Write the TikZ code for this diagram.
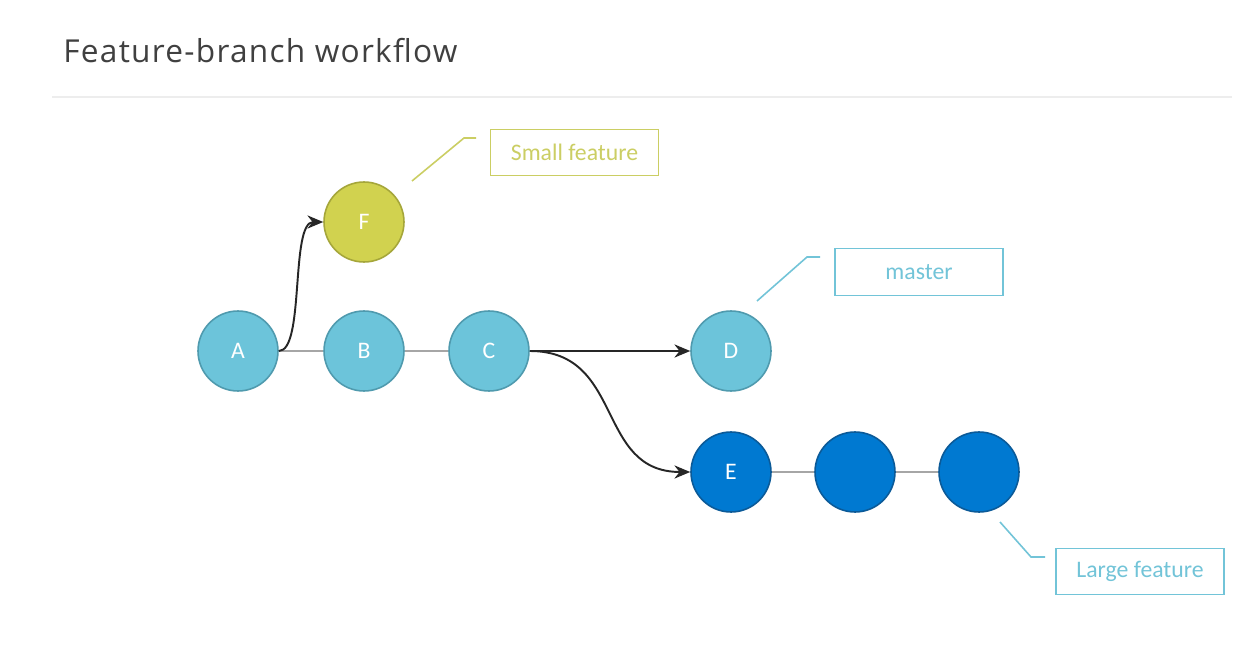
\documentclass[tikz,border=0pt]{standalone}
\usepackage{fontspec}
\setmainfont{Carlito}
\newfontfamily\titlefont{Open Sans}[LetterSpace=4]
\usepackage{tikz}
\usetikzlibrary{arrows.meta,positioning}
\definecolor{cyanfill}{HTML}{6CC4DA}
\definecolor{cyanedge}{HTML}{4F9AAE}
\definecolor{bluefill}{HTML}{0079D1}
\definecolor{blueedge}{HTML}{0B5A98}
\definecolor{olivefill}{HTML}{D1D24F}
\definecolor{oliveedge}{HTML}{A5A63A}
\definecolor{olivetag}{HTML}{CBCE63}
\definecolor{cyantag}{HTML}{72C4D8}
\definecolor{link}{HTML}{A6A6A6}
\definecolor{rule}{HTML}{EDEDED}

\begin{document}
\begin{tikzpicture}[x=0.02cm,y=-0.02cm,
  commit/.style={circle,minimum size=1.6cm,inner sep=0pt,line width=0.9pt,
    text=white,font=\fontsize{13.5}{15}\selectfont},
  master/.style={commit,fill=cyanfill,draw=cyanedge},
  large/.style={commit,fill=bluefill,draw=blueedge},
  small/.style={commit,fill=olivefill,draw=oliveedge},
  tag/.style={draw,line width=0.7pt,minimum width=3.36cm,minimum height=0.93cm,
    font=\fontsize{13.5}{16}\selectfont},
  chain/.style={link,line width=1pt},
  jump/.style={black!85,line width=1.1pt,-{Stealth[length=9pt,width=7.5pt]}}]
  \useasboundingbox[fill=white] (0,0) rectangle (1252,649);
  % heading
  \node[anchor=base west,font=\titlefont\fontsize{18}{22}\selectfont,text=black!75,inner sep=0pt]
    (title) at (63,62) {Feature-branch workflow};
  \draw[rule,line width=1pt] (52,97) -- (1232,97);
  % commits
  \node[master] (A) at (238,351) {A};
  \node[master] (B) at (364,351) {B};
  \node[master] (C) at (489,351) {C};
  \node[master] (D) at (731,351) {D};
  \node[small]  (F) at (364,222) {F};
  \node[large]  (E) at (731,472) {E};
  \node[large]  (E2) at (855,472) {};
  \node[large]  (E3) at (979,472) {};
  \draw[chain] (A) -- (B) (B) -- (C);
  \draw[chain] (E) -- (E2) (E2) -- (E3);
  % branches
  \draw[jump] (A.east) .. controls (305,351) and (290,222) .. (F.west);
  \draw[jump] (C.east) -- (D.west);
  \draw[jump] (C.east) .. controls (625,351) and (595,472) .. (E.west);
  % tags
  \node[tag,draw=olivetag,text=olivetag] (smalltag) at (574.5,152.5) {Small feature};
  \node[tag,draw=cyantag,text=cyantag]  (mastertag) at (919,272) {master};
  \node[tag,draw=cyantag,text=cyantag]  (largetag) at (1140,571.5) {Large feature};
  \coordinate (s1) at (412,181); \coordinate (s2) at (464,138); \coordinate (s3) at (476,138);
  \coordinate (m1) at (757,301); \coordinate (m2) at (807,257); \coordinate (m3) at (820,257);
  \coordinate (l1) at (1000,522); \coordinate (l2) at (1031,557); \coordinate (l3) at (1045,557);
  \draw[olivetag,line width=0.9pt] (s1) -- (s2) -- (s3);
  \draw[cyantag,line width=0.9pt] (m1) -- (m2) -- (m3);
  \draw[cyantag,line width=0.9pt] (l1) -- (l2) -- (l3);
\end{tikzpicture}
\end{document}
